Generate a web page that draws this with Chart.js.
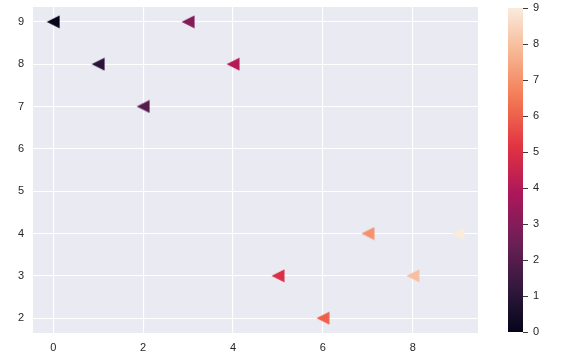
<!DOCTYPE html>
<html><head><meta charset="utf-8">
<script src="https://cdn.jsdelivr.net/npm/chart.js@4"></script>
<style>
body{margin:0;background:#fff;width:575px;height:360px;overflow:hidden;position:relative}
canvas{position:absolute;top:0}
#main{left:0}
#cbar{left:490px}
</style></head><body>
<canvas id="main" width="490" height="360"></canvas>
<canvas id="cbar" width="85" height="360"></canvas>
<script>
const xValues = [0, 1, 2, 3, 4, 5, 6, 7, 8, 9];
const yValues = [9, 8, 7, 9, 8, 3, 2, 4, 3, 4];
const colorValues = [0, 1, 2, 3, 4, 5, 6, 7, 8, 9];
const xTicks = [0, 2, 4, 6, 8];
const yTicks = [2, 3, 4, 5, 6, 7, 8, 9];
const cbarTicks = [0, 1, 2, 3, 4, 5, 6, 7, 8, 9];
const cbarMin = 0, cbarMax = 9;

// rocket colormap anchor colours
const rocketStops = [
  [0, [3, 5, 26]],
  [1/7, [53, 25, 62]],
  [2/7, [112, 31, 87]],
  [3/7, [173, 23, 89]],
  [4/7, [225, 51, 66]],
  [5/7, [243, 118, 81]],
  [6/7, [246, 180, 143]],
  [1, [250, 235, 221]]
];
function rocket(t) {
  t = Math.max(0, Math.min(1, t));
  for (let i = 1; i < rocketStops.length; i++) {
    const [t1, c1] = rocketStops[i];
    const [t0, c0] = rocketStops[i - 1];
    if (t <= t1) {
      const f = (t - t0) / (t1 - t0);
      const c = c0.map((v, k) => Math.round(v + f * (c1[k] - v)));
      return `rgb(${c[0]},${c[1]},${c[2]})`;
    }
  }
  return 'rgb(250,235,221)';
}
function triangle(color) {
  const c = document.createElement('canvas');
  c.width = 14; c.height = 14;
  const g = c.getContext('2d');
  g.fillStyle = color;
  g.beginPath();
  g.moveTo(0.5, 7);
  g.lineTo(13.5, 0.5);
  g.lineTo(13.5, 13.5);
  g.closePath();
  g.fill();
  return c;
}
const pointColors = colorValues.map(v => rocket((v - cbarMin) / (cbarMax - cbarMin)));
const pointImages = pointColors.map(triangle);

const FONT = {family: '"Liberation Sans", Arial, sans-serif', size: 11};
const TXT = '#262626';

const bgPlugin = {
  id: 'bg',
  beforeDraw(chart) {
    const {ctx, chartArea: a} = chart;
    ctx.save();
    ctx.fillStyle = '#EAEAF2';
    ctx.fillRect(a.left, a.top, a.right - a.left, a.bottom - a.top);
    ctx.restore();
  }
};
function noPad(s) { s.paddingTop = 0; s.paddingBottom = 0; s.paddingLeft = 0; s.paddingRight = 0; }

new Chart(document.getElementById('main'), {
  type: 'scatter',
  data: {
    datasets: [{
      data: xValues.map((x, i) => ({x: x, y: yValues[i]})),
      pointStyle: pointImages,
      backgroundColor: pointColors,
      borderColor: pointColors,
      borderWidth: 0,
      pointRadius: 7
    }]
  },
  options: {
    responsive: false,
    animation: false,
    events: [],
    layout: {padding: {top: 6, right: 12, left: 0, bottom: 0}},
    plugins: {legend: {display: false}, tooltip: {enabled: false}},
    scales: {
      x: {
        type: 'linear', min: -0.45, max: 9.45,
        afterBuildTicks: s => { s.ticks = xTicks.map(v => ({value: v})); },
        afterFit: s => { s.height = 27; noPad(s); },
        grid: {color: '#ffffff', lineWidth: 1.1, drawTicks: false},
        border: {display: false},
        ticks: {font: FONT, color: TXT, padding: 8, maxRotation: 0}
      },
      y: {
        type: 'linear', min: 1.65, max: 9.35,
        afterBuildTicks: s => { s.ticks = yTicks.map(v => ({value: v})); },
        afterFit: s => { s.width = 33; noPad(s); },
        grid: {color: '#ffffff', lineWidth: 1.1, drawTicks: false},
        border: {display: false},
        ticks: {font: FONT, color: TXT, padding: 9}
      }
    }
  },
  plugins: [bgPlugin]
});

new Chart(document.getElementById('cbar'), {
  type: 'bar',
  data: {
    labels: [''],
    datasets: [{
      data: [cbarMax],
      barPercentage: 1,
      categoryPercentage: 1,
      borderWidth: 0,
      backgroundColor: ctx => {
        const a = ctx.chart.chartArea;
        if (!a) return '#000';
        const g = ctx.chart.ctx.createLinearGradient(0, a.bottom, 0, a.top);
        for (let i = 0; i <= 40; i++) g.addColorStop(i / 40, rocket(i / 40));
        return g;
      }
    }]
  },
  options: {
    responsive: false,
    animation: false,
    events: [],
    layout: {padding: {top: 8, left: 18, right: 0, bottom: 28}},
    plugins: {legend: {display: false}, tooltip: {enabled: false}},
    scales: {
      x: {display: false},
      y: {
        position: 'right', min: cbarMin, max: cbarMax,
        afterBuildTicks: s => { s.ticks = cbarTicks.map(v => ({value: v})); },
        afterFit: s => { s.width = 52; noPad(s); },
        grid: {display: true, drawOnChartArea: false, drawTicks: true, tickLength: 5, color: TXT, lineWidth: 0.9},
        border: {display: false},
        ticks: {font: FONT, color: TXT, padding: 5}
      }
    }
  }
});
</script>
</body></html>
